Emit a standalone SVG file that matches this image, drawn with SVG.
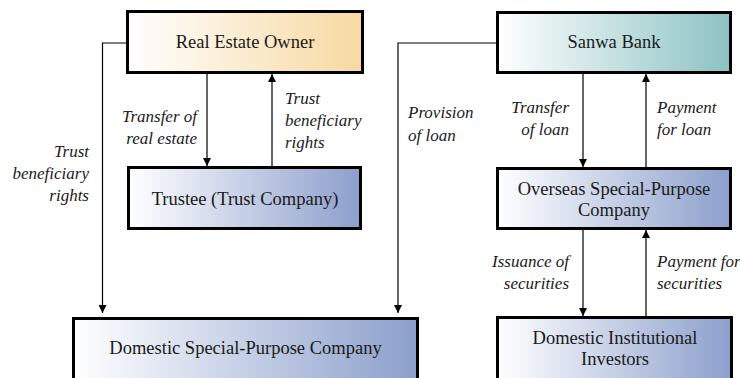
<svg xmlns="http://www.w3.org/2000/svg" width="740" height="378" viewBox="0 0 740 378">
  <defs>
    <linearGradient id="gOrange" x1="0" y1="0" x2="1" y2="0">
      <stop offset="0" stop-color="#ffffff"/>
      <stop offset="1" stop-color="#f7d9a0"/>
    </linearGradient>
    <linearGradient id="gTeal" x1="0" y1="0" x2="1" y2="0">
      <stop offset="0" stop-color="#ffffff"/>
      <stop offset="1" stop-color="#8cc2c4"/>
    </linearGradient>
    <linearGradient id="gBlue" x1="0" y1="0" x2="1" y2="0">
      <stop offset="0" stop-color="#ffffff"/>
      <stop offset="1" stop-color="#8c9fcc"/>
    </linearGradient>
    <marker id="arrow" viewBox="0 0 10 10" refX="10" refY="5" markerWidth="8" markerHeight="8" markerUnits="userSpaceOnUse" orient="auto">
      <path d="M0,0 L10,5 L0,10 Z" fill="#000"/>
    </marker>
  </defs>
  <style>
    .box { stroke: #000; stroke-width: 3; }
    .name { font-size: 18.5px; fill: #1a1a1a; text-anchor: middle; }
    .lbl { font-size: 17px; font-style: italic; fill: #1a1a1a; }
    .end { text-anchor: end; }
    .wire { fill: none; stroke: #000; stroke-width: 1.2; }
  </style>
  <rect width="740" height="378" fill="#ffffff"/>

  <g id="connectors">
    <path class="wire" d="M127,43 H102.5 V313" marker-end="url(#arrow)"/>
    <path class="wire" d="M497,43 H398 V313" marker-end="url(#arrow)"/>
    <path class="wire" d="M207,73 V166" marker-end="url(#arrow)"/>
    <path class="wire" d="M272,167 V74" marker-end="url(#arrow)"/>
    <path class="wire" d="M583,73 V167" marker-end="url(#arrow)"/>
    <path class="wire" d="M646,168 V74" marker-end="url(#arrow)"/>
    <path class="wire" d="M583,230 V316" marker-end="url(#arrow)"/>
    <path class="wire" d="M646,317 V230" marker-end="url(#arrow)"/>
  </g>

  <g id="labels" font-family="Liberation Serif, DejaVu Serif, serif">
    <text class="lbl end" x="89" y="157">Trust</text>
    <text class="lbl end" x="89" y="179">beneficiary</text>
    <text class="lbl end" x="89" y="201">rights</text>
    <text class="lbl end" x="197" y="122">Transfer of</text>
    <text class="lbl end" x="197" y="144">real estate</text>
    <text class="lbl" x="285" y="104">Trust</text>
    <text class="lbl" x="285" y="126">beneficiary</text>
    <text class="lbl" x="285" y="148">rights</text>
    <text class="lbl" x="408" y="118">Provision</text>
    <text class="lbl" x="408" y="141">of loan</text>
    <text class="lbl end" x="569" y="113">Transfer</text>
    <text class="lbl end" x="569" y="135">of loan</text>
    <text class="lbl" x="657" y="113">Payment</text>
    <text class="lbl" x="657" y="135">for loan</text>
    <text class="lbl end" x="569" y="267">Issuance of</text>
    <text class="lbl end" x="569" y="289">securities</text>
    <text class="lbl" x="657" y="267">Payment for</text>
    <text class="lbl" x="657" y="289">securities</text>
  </g>

  <g font-family="Liberation Serif, DejaVu Serif, serif">
    <g id="real-estate-owner">
      <rect class="box" x="127.5" y="11.5" width="235" height="61" fill="url(#gOrange)"/>
      <text class="name" x="245" y="48">Real Estate Owner</text>
    </g>
    <g id="sanwa-bank">
      <rect class="box" x="497.5" y="12.5" width="233" height="60" fill="url(#gTeal)"/>
      <text class="name" x="614" y="48">Sanwa Bank</text>
    </g>
    <g id="trustee">
      <rect class="box" x="128.5" y="167.5" width="232" height="61" fill="url(#gBlue)"/>
      <text class="name" x="245" y="205">Trustee (Trust Company)</text>
    </g>
    <g id="overseas-spc">
      <rect class="box" x="497.5" y="168.5" width="233" height="60" fill="url(#gBlue)"/>
      <text class="name" x="614" y="195">Overseas Special-Purpose</text>
      <text class="name" x="614" y="216">Company</text>
    </g>
    <g id="domestic-spc">
      <rect class="box" x="73.5" y="318.5" width="344" height="70" fill="url(#gBlue)"/>
      <text class="name" x="245.5" y="354">Domestic Special-Purpose Company</text>
    </g>
    <g id="domestic-investors">
      <rect class="box" x="497.5" y="317.5" width="234" height="70" fill="url(#gBlue)"/>
      <text class="name" x="615" y="344">Domestic Institutional</text>
      <text class="name" x="615" y="365">Investors</text>
    </g>
  </g>
</svg>
